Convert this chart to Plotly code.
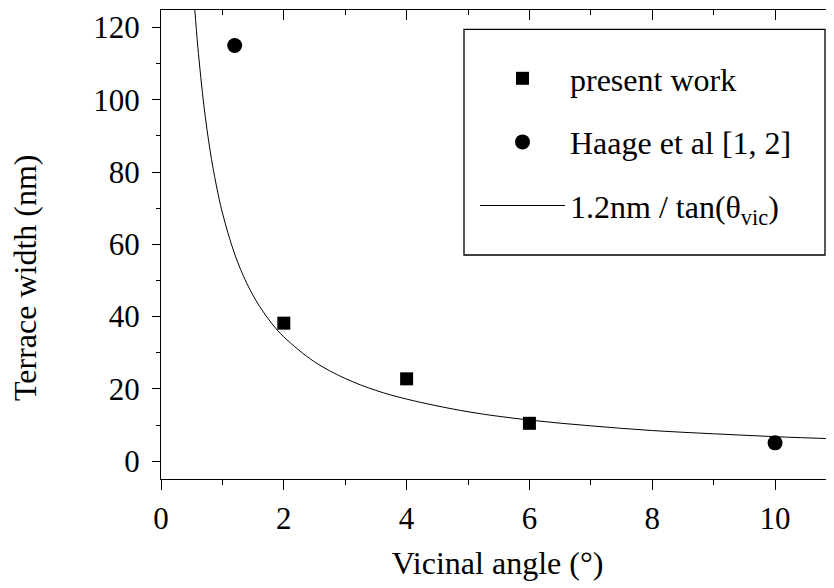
import plotly.graph_objects as go

# --- data ---
present_x = [2, 4, 6]
present_y = [38.2, 22.8, 10.5]

haage_x = [1.2, 10]
haage_y = [115, 5.1]

# curve "1.2nm / tan(theta_vic)"
curve_x = [0.55, 0.6, 0.7, 0.8, 0.9, 1.0, 1.2, 1.4, 1.6, 1.8, 2.0, 2.5, 3.0, 3.5,
           4.0, 5.0, 6.0, 7.0, 8.0, 9.0, 10.0, 11.0]
curve_y = [125.0, 114.6, 98.2, 85.9, 76.4, 68.7, 57.3, 49.1, 43.0, 38.2, 34.4, 27.5,
           22.9, 19.6, 17.2, 13.7, 11.4, 9.8, 8.5, 7.6, 6.8, 6.2]

x_ticks = [0, 2, 4, 6, 8, 10]
y_ticks = [0, 20, 40, 60, 80, 100, 120]

FONT = "Liberation Serif"
FS_TICK = 31
FS = 32

OFF = 8  # default page body margin
W, H = 834 - OFF, 588 - OFF
L, R, T, B = 161 - OFF, 0, 10 - OFF, 588 - 479
PW, PH = W - L - R, H - T - B
XR = [0, 10.96]
YR = [-4.9, 124.8]


def px(sx):
    return (sx - OFF - L) / PW


def py(sy):
    return (H - B - (sy - OFF)) / PH


fig = go.Figure()

fig.add_trace(go.Scatter(
    x=present_x, y=present_y, mode="markers", name="present work",
    marker=dict(symbol="square", size=13, color="black"),
    legendgroup="a",
))
fig.add_trace(go.Scatter(
    x=haage_x, y=haage_y, mode="markers", name="Haage et al [1, 2]",
    marker=dict(symbol="circle", size=15, color="black"),
    legendgroup="b",
))
fig.add_trace(go.Scatter(
    x=curve_x, y=curve_y, mode="lines", name="1.2nm / tan(θ<sub>vic</sub>)",
    line=dict(color="black", width=1, shape="spline"),
    legendgroup="c",
))
# invisible trace to carry the mirrored (top/right) axes
fig.add_trace(go.Scatter(
    x=present_x, y=present_y, mode="markers", xaxis="x2", yaxis="y2",
    marker=dict(opacity=0), showlegend=False, hoverinfo="skip",
))

axis_common = dict(
    showgrid=False, zeroline=False, linecolor="black", linewidth=1.3,
    tickcolor="black", tickwidth=1.3,
    tickfont=dict(family=FONT, size=FS_TICK, color="black"),
)

fig.update_layout(
    width=W, height=H,
    margin=dict(l=L, r=R, t=T, b=B),
    paper_bgcolor="white", plot_bgcolor="white",
    font=dict(family=FONT, size=FS, color="black"),
    xaxis=dict(
        range=XR, tickvals=x_ticks, ticks="outside", ticklen=10, showline=True,
        minor=dict(dtick=1, tick0=0, ticks="outside", ticklen=5, tickcolor="black", tickwidth=1.3),
        title=dict(text="Vicinal angle (°)", font=dict(family=FONT, size=FS, color="black"), standoff=16),
        ticklabelstandoff=2,
        **axis_common,
    ),
    yaxis=dict(
        range=YR, tickvals=y_ticks, ticks="outside", ticklen=8, showline=True,
        minor=dict(dtick=10, tick0=0, ticks="outside", ticklen=4, tickcolor="black", tickwidth=1.3),
        ticklabelstandoff=6,
        **axis_common,
    ),
    xaxis2=dict(
        range=XR, overlaying="x", side="top", anchor="y2", tickvals=x_ticks,
        ticks="inside", ticklen=10, showline=True, showticklabels=False,
        minor=dict(dtick=1, tick0=0, ticks="inside", ticklen=5, tickcolor="black", tickwidth=1.3),
        **axis_common,
    ),
    yaxis2=dict(
        range=YR, overlaying="y", side="right", anchor="x2", tickvals=y_ticks,
        ticks="inside", ticklen=8, showline=False, showticklabels=False,
        minor=dict(dtick=10, tick0=0, ticks="inside", ticklen=4, tickcolor="black", tickwidth=1.3),
        **axis_common,
    ),
    showlegend=True,
    legend=dict(
        x=px(475), y=py(51),
        xanchor="left", yanchor="top",
        bgcolor="rgba(0,0,0,0)", borderwidth=0,
        font=dict(family=FONT, size=FS, color="black"),
        itemwidth=85, tracegroupgap=19, itemsizing="trace",
    ),
    shapes=[dict(
        type="rect", xref="paper", yref="paper",
        x0=px(464), x1=px(825), y0=py(255), y1=py(29.3),
        line=dict(color="black", width=1.3), fillcolor="rgba(0,0,0,0)",
    )],
    annotations=[dict(
        text="Terrace width (nm)", textangle=-90, xref="paper", yref="paper",
        x=0, xshift=(25 - OFF) - L, y=py(278), xanchor="center", yanchor="middle",
        showarrow=False, font=dict(family=FONT, size=FS, color="black"),
    )],
)

fig.write_html("out.html")
